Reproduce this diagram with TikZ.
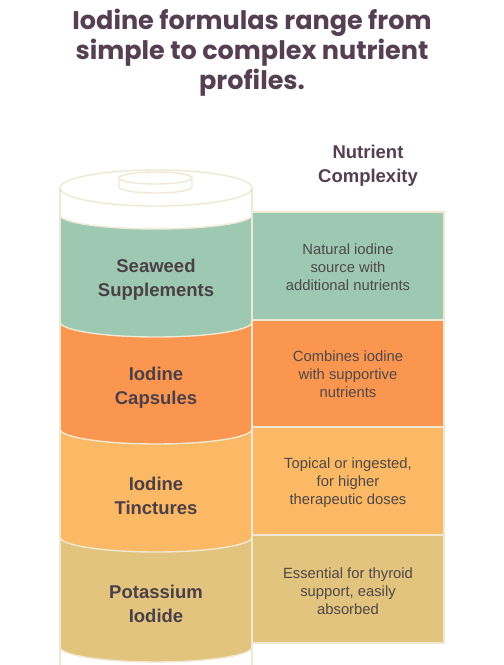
\documentclass[tikz,border=0pt]{standalone}
\usepackage{fontspec}
\setmainfont{Liberation Sans}
\newfontfamily\titlefont{Poppins}
\definecolor{cream}{HTML}{EFE9D3}
\definecolor{bgreen}{HTML}{9DC9B3}
\definecolor{borange}{HTML}{FA9650}
\definecolor{bamber}{HTML}{FBB965}
\definecolor{bsand}{HTML}{E2C47E}
\definecolor{titlecol}{HTML}{563F52}
\definecolor{labelcol}{HTML}{4B3F48}
\definecolor{desccol}{HTML}{4F4848}
\tikzset{
  outline/.style={draw=cream, line width=1.4pt},
  band/.style={line width=1.4pt, draw=cream},
  descbox/.style={draw=cream, line width=2pt},
  lbl/.style={align=center, font=\fontsize{18.5}{24}\selectfont\bfseries, text=labelcol, inner sep=0pt},
  desc/.style={align=center, font=\fontsize{14.8}{18}\selectfont, text=desccol, inner sep=0pt},
  hdr/.style={align=center, font=\fontsize{18.5}{24}\selectfont\bfseries, text=titlecol, inner sep=0pt},
  ttl/.style={align=center, font=\titlefont\bfseries\fontsize{25.5}{30}\selectfont, text=titlecol, inner sep=0pt}
}
\begin{document}
\begin{tikzpicture}[x=1pt,y=-1pt]
\useasboundingbox (0,0) rectangle (504,665);
\fill[white] (0,0) rectangle (504,665);
% cylinder body
\fill[white] (60,188) -- (60,665) -- (252,665) -- (252,188) -- cycle;
% bands
\fill[bgreen] (60,215) -- (60,322) arc[start angle=180,end angle=0,x radius=96,y radius=15] -- (252,215) arc[start angle=0,end angle=180,x radius=96,y radius=14] -- cycle;
\fill[borange] (60,322) -- (60,429) arc[start angle=180,end angle=0,x radius=96,y radius=15] -- (252,322) arc[start angle=0,end angle=180,x radius=96,y radius=15] -- cycle;
\fill[bamber] (60,429) -- (60,537) arc[start angle=180,end angle=0,x radius=96,y radius=15] -- (252,429) arc[start angle=0,end angle=180,x radius=96,y radius=15] -- cycle;
\fill[bsand] (60,537) -- (60,647) arc[start angle=180,end angle=0,x radius=96,y radius=15] -- (252,537) arc[start angle=0,end angle=180,x radius=96,y radius=15] -- cycle;
% band edges
\draw[band] (60,215) arc[start angle=180,end angle=0,x radius=96,y radius=14];
\draw[band] (60,322) arc[start angle=180,end angle=0,x radius=96,y radius=15];
\draw[band] (60,429) arc[start angle=180,end angle=0,x radius=96,y radius=15];
\draw[band] (60,537) arc[start angle=180,end angle=0,x radius=96,y radius=15];
\draw[band] (60,647) arc[start angle=180,end angle=0,x radius=96,y radius=15];
% sides
\draw[outline] (60,188) -- (60,665);
\draw[outline] (252,188) -- (252,665);
% top face
\filldraw[outline, fill=white] (156,188) ellipse[x radius=96, y radius=18];
% cap
\filldraw[outline, fill=white] (119,178) -- (119,187) arc[start angle=180,end angle=0,x radius=36.5,y radius=6] -- (192,178) -- cycle;
\filldraw[outline, fill=white] (155.5,178) ellipse[x radius=36.5, y radius=6];
% description boxes
\filldraw[descbox, fill=bgreen] (252,212) rectangle (444,320);
\filldraw[descbox, fill=borange] (252,320) rectangle (444,427);
\filldraw[descbox, fill=bamber] (252,427) rectangle (444,535);
\filldraw[descbox, fill=bsand] (252,535) rectangle (444,643);
% texts
\node[ttl] (title) at (252,53) {Iodine formulas range from\\simple to complex nutrient\\profiles.};
\node[hdr] (header) at (368,166) {Nutrient\\Complexity};
\node[lbl] (l1) at (156,280) {Seaweed\\Supplements};
\node[lbl] (l2) at (156,388) {Iodine\\Capsules};
\node[lbl] (l3) at (156,496) {Iodine\\Tinctures};
\node[lbl] (l4) at (156,604) {Potassium\\Iodide};
\node[desc] (d1) at (348,267) {Natural iodine\\source with\\additional nutrients};
\node[desc] (d2) at (348,374) {Combines iodine\\with supportive\\nutrients};
\node[desc] (d3) at (348,483) {Topical or ingested,\\for higher\\therapeutic doses};
\node[desc] (d4) at (348,591) {Essential for thyroid\\support, easily\\absorbed};
\end{tikzpicture}
\end{document}
